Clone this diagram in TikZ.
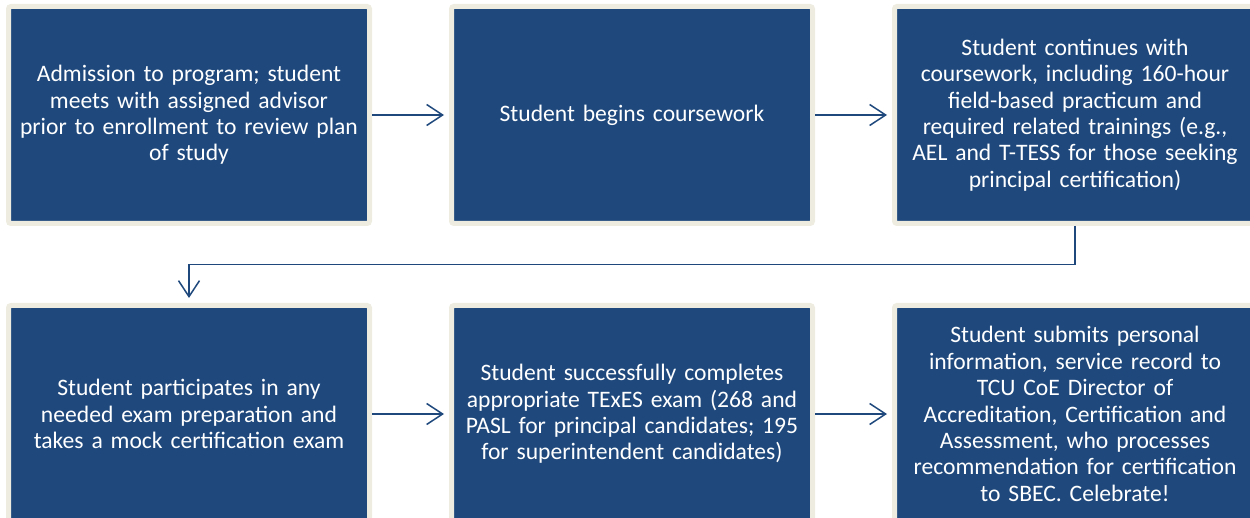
\documentclass[tikz,border=0pt]{standalone}
\usepackage{fontspec}
\setmainfont{Carlito}
\usetikzlibrary{arrows.meta,calc,positioning}
\definecolor{stepblue}{RGB}{31,73,125}
\definecolor{stepcream}{RGB}{238,236,225}

\tikzset{
  stepbox/.style={draw=stepcream,line width=5pt,fill=stepblue,rounded corners=2.5pt,
    minimum width=361pt,minimum height=217pt,inner sep=0pt,text=white,
    text width=356pt,align=center,font=\fontsize{23.6}{26.4}\selectfont},
  flow/.style={stepblue,line width=1.5pt,shorten >=5pt,
    -{Straight Barb[length=16pt,width=21pt,line width=1.5pt]}}
}

\begin{document}
\begin{tikzpicture}[x=1pt,y=-1pt]

%% ── page frame (boxes run off the right and bottom edges) ──────────────────
\useasboundingbox (0,0) rectangle (1250,518);
\clip (0,0) rectangle (1250,518);

%% ── top row ──────────────────────────────────────────────────────────────────
\node[stepbox] (admit) at (189,115)
  {Admission to program; student\\ meets with assigned advisor\\
   prior to enrollment to review plan\\ of study};
\node[stepbox,right=77pt of admit] (begin) {Student begins coursework};
\node[stepbox,right=77pt of begin] (cont)
  {Student continues with\\ coursework, including 160-hour\\
   field-based practicum and\\ required related trainings (e.g.,\\
   AEL and T-TESS for those seeking\\ principal certification)};

%% ── bottom row ───────────────────────────────────────────────────────────────
\node[stepbox,below=77pt of admit] (prep)
  {Student participates in any\\ needed exam preparation and\\
   takes a mock certification exam};
\node[stepbox,right=77pt of prep] (exam)
  {Student successfully completes\\ appropriate TExES exam (268 and\\
   PASL for principal candidates; 195\\ for superintendent candidates)};
\node[stepbox,right=77pt of exam] (submit)
  {Student submits personal\\ information, service record to\\
   TCU CoE Director of\\ Accreditation, Certification and\\
   Assessment, who processes\\ recommendation for certification\\
   to SBEC. Celebrate!};

%% ── connectors ───────────────────────────────────────────────────────────────
\draw[flow] (admit) -- (begin);
\draw[flow] (begin) -- (cont);
\coordinate (turn) at ($(cont.south)!.5!(prep.north)$);
\draw[flow] (cont.south) |- (turn) -| (prep.north);
\draw[flow] (prep) -- (exam);
\draw[flow] (exam) -- (submit);

\end{tikzpicture}
\end{document}
